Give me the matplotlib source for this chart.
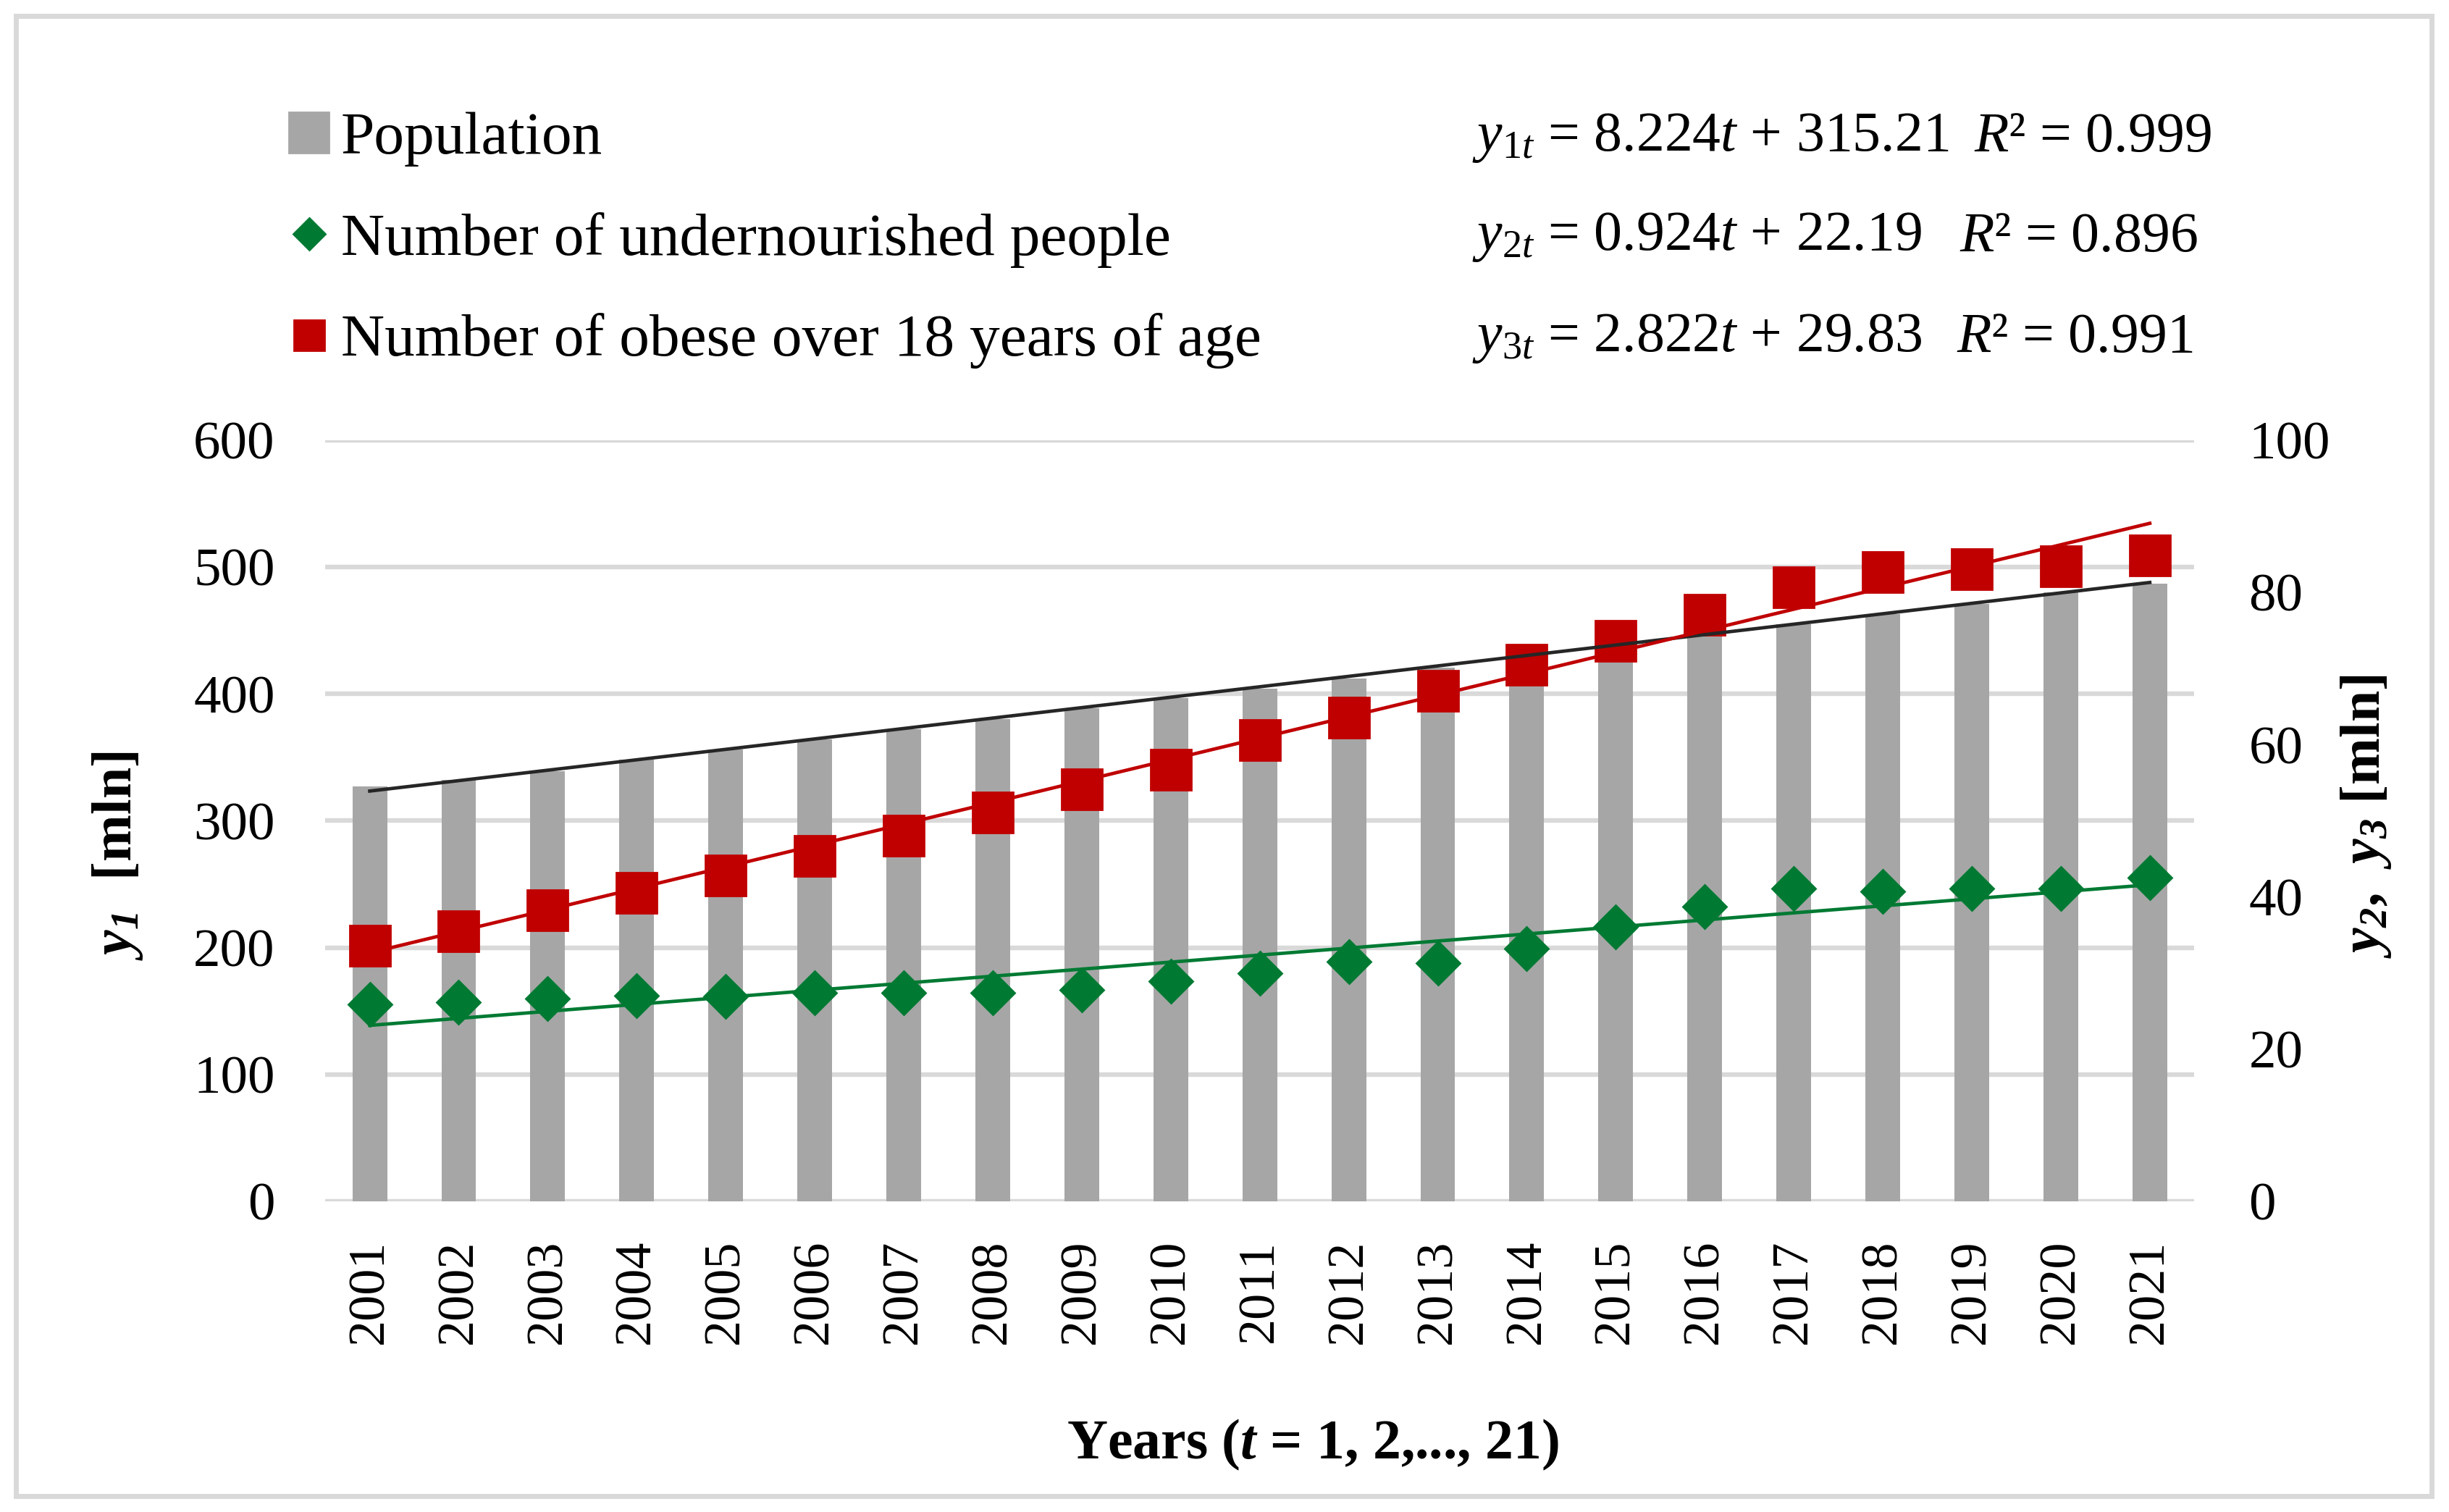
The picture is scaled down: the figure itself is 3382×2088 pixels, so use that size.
import numpy as np
import matplotlib
matplotlib.use('Agg')
import matplotlib.pyplot as plt
from matplotlib.patches import Patch, Rectangle
from matplotlib.lines import Line2D

# data
years = [str(y) for y in range(2001, 2022)]
population = [327, 332, 339, 348, 356, 364, 372, 380, 389, 397, 404,
              412, 421, 431, 440, 447, 455, 463, 471, 480, 487]
undernourished = [25.9, 26.2, 26.6, 27.0, 26.9, 27.4, 27.4, 27.4, 27.8, 28.9, 30.0,
                  31.5, 31.3, 33.2, 36.1, 38.7, 41.1, 40.7, 41.1, 41.1, 42.5]
obese = [33.6, 35.5, 38.2, 40.5, 42.8, 45.4, 48.0, 51.1, 54.1, 56.7, 60.6,
         63.6, 67.1, 70.5, 73.6, 77.1, 80.7, 82.7, 83.1, 83.4, 84.9]

# trend lines  y = a*t + b
slopes = [8.224, 0.924, 2.822]
intercepts = [315.21, 22.19, 29.83]
r2 = [0.999, 0.896, 0.991]
series_names = ['Population', 'Number of undernourished people',
                'Number of obese over 18 years of age']

GRAY = '#a6a6a6'
GREEN = '#007a33'
RED = '#c00000'
GRID = '#d9d9d9'

plt.rcParams['font.family'] = ['Liberation Serif', 'DejaVu Serif']
plt.rcParams['mathtext.fontset'] = 'custom'
plt.rcParams['mathtext.rm'] = 'Liberation Serif'
plt.rcParams['mathtext.it'] = 'Liberation Serif:italic'
plt.rcParams['mathtext.bf'] = 'Liberation Serif:bold'
plt.rcParams['mathtext.bfit'] = 'Liberation Serif:bold:italic'

fig = plt.figure(figsize=(16.91, 10.44), dpi=200)
ax1 = fig.add_axes([0.1328, 0.2055, 0.8960 - 0.1328, 0.7088 - 0.2055])
ax2 = ax1.twinx()

x = np.arange(len(years))
t = x + 1

ax1.bar(x, population, width=0.39, color=GRAY, zorder=2)
ax1.set_ylim(0, 600)
ax1.set_yticks(range(0, 601, 100))
ax1.set_xlim(-0.5, len(years) - 0.5)
ax1.set_xticks(x)
ax1.set_xticklabels(years, rotation=90)
ax1.grid(axis='y', color=GRID, lw=2.3, zorder=0)
ax1.set_axisbelow(True)

ax2.set_ylim(0, 100)
ax2.set_yticks(range(0, 101, 20))

# markers on the secondary axis
ax2.plot(x, undernourished, ls='none', marker='D', ms=15.5, color=GREEN, zorder=3)
ax2.plot(x, obese, ls='none', marker='s', ms=20.5, color=RED, zorder=3)

# trend lines (drawn on top, black one uses the primary scale)
ax2.plot(x, slopes[0] * t + intercepts[0], color='#262626', lw=1.7,
         transform=ax1.transData, zorder=4)
ax2.plot(x, slopes[1] * t + intercepts[1], color=GREEN, lw=1.7, zorder=4)
ax2.plot(x, slopes[2] * t + intercepts[2], color=RED, lw=1.7, zorder=4)

for ax in (ax1, ax2):
    for s in ax.spines.values():
        s.set_visible(False)
    ax.tick_params(length=0, labelsize=27, colors='black')
ax1.tick_params(axis='y', pad=25)
ax2.tick_params(axis='y', pad=27)
ax1.tick_params(axis='x', labelsize=26, pad=19)

fig.text(0.048, 0.434, r'$\mathbfit{y_1}$  [mln]', rotation=90, fontsize=28,
         fontweight='bold', ha='center', va='center')
fig.text(0.966, 0.46, r'$\mathbfit{y_2}$,  $\mathbfit{y_3}$ [mln]', rotation=90,
         fontsize=28, fontweight='bold', ha='center', va='center')
fig.text(0.536, 0.0445, r'Years ($\mathbfit{t}$ = 1, 2,..., 21)', fontsize=28,
         fontweight='bold', ha='center', va='center')

# legend
handles = [Patch(color=GRAY),
           Line2D([], [], ls='none', marker='D', ms=11, color=GREEN),
           Line2D([], [], ls='none', marker='s', ms=15, color=RED)]
fig.legend(handles, series_names, loc='center left', bbox_to_anchor=(0.118, 0.841),
           frameon=False, fontsize=30, handlelength=0.66, handleheight=0.66,
           handletextpad=0.2, labelspacing=0.75, borderpad=0, borderaxespad=0)

# equations
eq_y = [0.909, 0.843, 0.776]
r2_x = [0.806, 0.800, 0.799]
for i in range(3):
    fig.text(0.601, eq_y[i],
             r'$y_{%dt}$ = %.3f$t$ + %.2f' % (i + 1, slopes[i], intercepts[i]),
             fontsize=28, ha='left', va='center')
    fig.text(r2_x[i], eq_y[i], r'$R$² = %.3f' % r2[i], fontsize=28,
             ha='left', va='center')

# outer frame
fig.patches.append(Rectangle((0.0065, 0.0105), 0.9865, 0.979, transform=fig.transFigure,
                             fill=False, edgecolor=GRID, lw=2.5))

fig.savefig('out.png', dpi=200, facecolor='white')
